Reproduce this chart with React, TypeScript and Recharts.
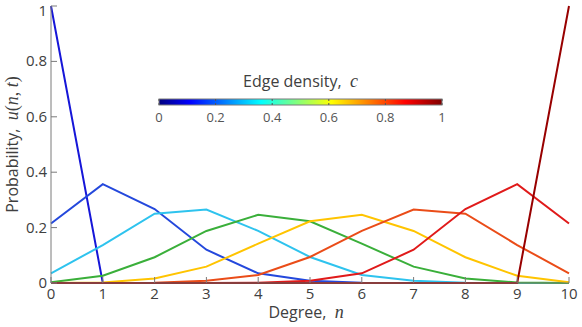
import { LineChart, Line, XAxis, YAxis } from 'recharts'

const DEGREES = [0, 1, 2, 3, 4, 5, 6, 7, 8, 9, 10]
const C0 = [1, 0, 0, 0, 0, 0, 0, 0, 0, 0, 0]
const C1 = [0.215, 0.357, 0.267, 0.12, 0.035, 0.008, 0.001, 0, 0, 0, 0]
const C2 = [0.035, 0.137, 0.25, 0.265, 0.188, 0.094, 0.029, 0.008, 0.001, 0, 0]
const C3 = [0.003, 0.026, 0.093, 0.188, 0.246, 0.223, 0.142, 0.059, 0.016, 0.002, 0]
const C4 = [0, 0.002, 0.016, 0.059, 0.142, 0.223, 0.246, 0.188, 0.093, 0.026, 0.003]
const C5 = [0, 0, 0.001, 0.008, 0.029, 0.094, 0.188, 0.265, 0.25, 0.137, 0.035]
const C6 = [0, 0, 0, 0, 0.001, 0.008, 0.035, 0.12, 0.267, 0.357, 0.215]
const C7 = [0, 0, 0, 0, 0, 0, 0, 0, 0, 0, 1]

const SERIES = [
  { key: 'c0', values: C0, color: '#1616d8' },
  { key: 'c1', values: C1, color: '#2448dc' },
  { key: 'c2', values: C2, color: '#2ec3ee' },
  { key: 'c3', values: C3, color: '#3aaf3a' },
  { key: 'c4', values: C4, color: '#ffc400' },
  { key: 'c5', values: C5, color: '#ea4c18' },
  { key: 'c6', values: C6, color: '#e01a1a' },
  { key: 'c7', values: C7, color: '#980000' },
]

const Y_TICKS = [0, 0.2, 0.4, 0.6, 0.8, 1]
const BAR_TICKS = [0, 0.2, 0.4, 0.6, 0.8, 1]
const JET = [
  { at: 0, color: '#00007f' },
  { at: 0.11, color: '#0000ff' },
  { at: 0.36, color: '#00ffff' },
  { at: 0.61, color: '#ffff00' },
  { at: 0.87, color: '#ff0000' },
  { at: 1, color: '#7f0000' },
]

const data = DEGREES.map((n, i) => {
  const row: Record<string, number> = { n }
  SERIES.forEach((s) => (row[s.key] = s.values[i]))
  return row
})

const TEXT = '#404040'
const AXIS = '#7a7a7a'
const SANS = '"Open Sans", "DejaVu Sans", sans-serif'
const MATH = '"Liberation Serif", "DejaVu Serif", serif'

function XLabel({ viewBox }: any) {
  const cx = viewBox.x + viewBox.width / 2
  return (
    <text x={cx - 4} y={viewBox.y + 35} textAnchor="middle" fill={TEXT} fontFamily={SANS} fontSize={16}>
      Degree,{'\u00a0\u00a0'}
      <tspan fontFamily={MATH} fontStyle="italic" fontSize={18}>n</tspan>
    </text>
  )
}

function YLabel({ viewBox }: any) {
  const cy = viewBox.y + viewBox.height / 2
  const x = viewBox.x + 18
  return (
    <text x={x} y={cy} transform={`rotate(-90 ${x} ${cy})`} textAnchor="middle" fill={TEXT} fontFamily={SANS} fontSize={16}>
      Probability,{'\u00a0\u00a0'}
      <tspan fontFamily={MATH} fontStyle="italic" fontSize={18}>u</tspan>
      <tspan fontFamily={MATH} fontSize={18}>(</tspan>
      <tspan fontFamily={MATH} fontStyle="italic" fontSize={18}>n</tspan>
      <tspan fontFamily={MATH} fontSize={18}>,{'\u00a0'}</tspan>
      <tspan fontFamily={MATH} fontStyle="italic" fontSize={18}>t</tspan>
      <tspan fontFamily={MATH} fontSize={18}>)</tspan>
    </text>
  )
}

// y tick label; the top one is nudged down so it stays inside the page
function YTick({ x, y, payload }: any) {
  const dy = payload.value === 1 ? 7 : 5
  return (
    <text x={x} y={y + dy} textAnchor="end" fill={TEXT} fontFamily={SANS} fontSize={15}>
      {payload.value}
    </text>
  )
}

function ColorBar() {
  const x0 = 159
  const w = 283
  const y0 = 99
  const h = 6
  return (
    <svg width={582} height={327} style={{ position: 'absolute', left: 0, top: 0, pointerEvents: 'none' }}>
      <defs>
        <linearGradient id="jet" x1="0" x2="1" y1="0" y2="0">
          {JET.map((s) => (
            <stop key={s.at} offset={s.at} stopColor={s.color} />
          ))}
        </linearGradient>
      </defs>
      <text x={x0 + w / 2} y={87} textAnchor="middle" fill={TEXT} fontFamily={SANS} fontSize={16}>
        Edge density,{'\u00a0\u00a0'}
        <tspan fontFamily={MATH} fontStyle="italic" fontSize={18}>c</tspan>
      </text>
      <rect x={x0} y={y0} width={w} height={h} fill="url(#jet)" stroke={AXIS} strokeWidth={1} />
      {BAR_TICKS.map((t) => (
        <g key={t}>
          <line x1={x0 + t * w} x2={x0 + t * w} y1={y0} y2={y0 + 2} stroke="#555" strokeWidth={1} />
          <line x1={x0 + t * w} x2={x0 + t * w} y1={y0 + h} y2={y0 + h - 2} stroke="#555" strokeWidth={1} />
          <text x={x0 + t * w} y={y0 + 23} textAnchor="middle" fill="#555" fontFamily={SANS} fontSize={13}>
            {t}
          </text>
        </g>
      ))}
    </svg>
  )
}

const noTick = () => <g />

export default function App() {
  return (
    <div style={{ position: 'absolute', left: 0, top: 0, width: 582, height: 327, background: '#fff' }}>
      <LineChart width={582} height={327} data={data} margin={{ top: 6, right: 13, bottom: 0, left: 0 }}>
        <XAxis
          dataKey="n"
          type="number"
          domain={[0, 10]}
          ticks={DEGREES}
          interval={0}
          height={44}
          tickSize={-6}
          tickMargin={11}
          stroke={AXIS}
          tick={{ fill: TEXT, fontFamily: SANS, fontSize: 15 }}
          label={<XLabel />}
        />
        <XAxis xAxisId="top" orientation="top" dataKey="n" type="number" domain={[0, 10]} ticks={DEGREES} height={0} tickSize={-6} stroke={AXIS} tick={noTick} />
        <YAxis
          type="number"
          domain={[0, 1]}
          ticks={Y_TICKS}
          width={51}
          tickSize={-6}
          tickMargin={10}
          stroke={AXIS}
          tick={<YTick />}
          label={<YLabel />}
        />
        <YAxis yAxisId="right" orientation="right" type="number" domain={[0, 1]} ticks={Y_TICKS} width={0} tickSize={-6} stroke={AXIS} tick={noTick} />
        {SERIES.map((s) => (
          <Line key={s.key} type="linear" dataKey={s.key} stroke={s.color} strokeWidth={2} dot={false} isAnimationActive={false} />
        ))}
      </LineChart>
      <ColorBar />
    </div>
  )
}
